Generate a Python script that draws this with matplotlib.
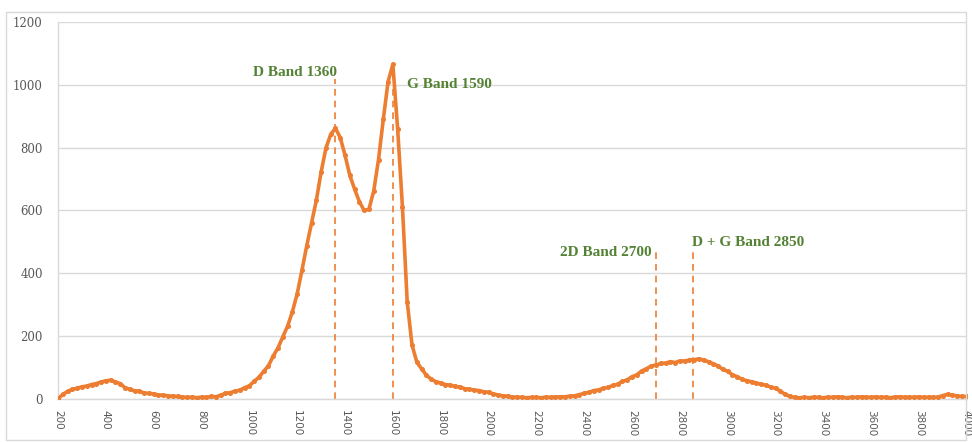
import numpy as np
import matplotlib.pyplot as plt
from matplotlib.patches import Rectangle

# === 数据 (Raman shift, intensity) ===
shift = np.arange(200, 4001, 20)
intensity = [
    0, 15, 24, 31, 34, 39, 41, 46, 49, 54,          # 200-380
    58, 60, 54, 49, 36, 31, 26, 25, 19, 18,          # 400-580
    16, 13, 12, 10, 9, 8, 6, 5, 6, 4,                # 600-780
    6, 5, 8, 7, 12, 18, 20, 25, 28, 36,              # 800-980
    42, 56, 69, 88, 106, 137, 163, 198, 232, 278,    # 1000-1180
    335, 410, 488, 560, 632, 722, 798, 842, 862, 832, # 1200-1380
    776, 712, 668, 628, 600, 604, 662, 762, 890, 1010, # 1400-1580
    1065, 860, 612, 310, 172, 118, 96, 76, 63, 55,   # 1600-1780
    51, 46, 44, 40, 38, 33, 31, 28, 27, 23,          # 1800-1980
    22, 16, 13, 10, 9, 6, 6, 5, 4, 5,                # 2000-2180
    5, 4, 6, 5, 6, 7, 7, 9, 10, 14,                  # 2200-2380
    18, 21, 27, 29, 34, 37, 43, 47, 56, 61,          # 2400-2580
    71, 77, 89, 96, 105, 108, 113, 114, 119, 116,    # 2600-2780
    121, 121, 124, 125, 128, 123, 119, 112, 105, 94, # 2800-2980
    88, 77, 71, 63, 58, 55, 50, 47, 44, 38,          # 3000-3180
    34, 25, 15, 8, 5, 4, 5, 4, 6, 5,                 # 3200-3380
    4, 6, 5, 7, 5, 4, 6, 5, 7, 6,                    # 3400-3580
    5, 7, 5, 6, 4, 6, 7, 5, 6, 5,                    # 3600-3780
    7, 5, 6, 5, 6, 11, 15, 12, 10, 8,                # 3800-3980
    8,                                               # 4000
]

band_pos = [1360, 1600, 2700, 2855]
band_top = [1020, 990, 480, 480]
band_text = ["D Band 1360", "G Band 1590", "2D Band 2700", "D + G Band 2850"]
text_xy = [(1365, 1040), (1660, 1000), (2680, 465), (2850, 498)]
text_ha = ["right", "left", "right", "left"]

orange = "#ED7D31"
green = "#548235"
grid_gray = "#d9d9d9"

# === 绘图 ===
fig = plt.figure(figsize=(9.72, 4.42), dpi=100)
fig.patches.append(Rectangle((0.006, 0.004), 0.988, 0.968, transform=fig.transFigure,
                             fill=False, edgecolor=grid_gray, linewidth=1.0))
ax = fig.add_axes([0.0597, 0.0973, 0.935, 0.853])

ax.plot(shift, intensity, color=orange, linewidth=2.6, marker='o', markersize=2.6,
        zorder=3)

for xp, top in zip(band_pos, band_top):
    ax.plot([xp, xp], [0, top], color=orange, linestyle=(0, (4, 3)), linewidth=1.2, zorder=2)

for txt, (tx, ty), ha in zip(band_text, text_xy, text_ha):
    ax.text(tx, ty, txt, color=green, fontsize=11, fontweight='bold',
            family='Liberation Serif', ha=ha, va='center')

ax.set_xlim(200, 4000)
ax.set_ylim(0, 1200)
ax.set_xticks(range(200, 4001, 200))
ax.set_yticks(range(0, 1201, 200))
ax.grid(axis='y', color=grid_gray, linewidth=1.0)
ax.set_axisbelow(True)

for s in ['top', 'right']:
    ax.spines[s].set_visible(False)
for s in ['left', 'bottom']:
    ax.spines[s].set_color(grid_gray)
    ax.spines[s].set_linewidth(1.0)

ax.tick_params(length=0, colors='#595959')
ax.tick_params(axis='x', pad=8)
ax.tick_params(axis='y', pad=11)
for lbl in ax.get_xticklabels():
    lbl.set_rotation(270)
    lbl.set_fontfamily('DejaVu Sans')
    lbl.set_fontsize(7.5)
for lbl in ax.get_yticklabels():
    lbl.set_fontfamily('DejaVu Serif')
    lbl.set_fontsize(8.5)

plt.savefig("out.png", dpi=100)
plt.close()
